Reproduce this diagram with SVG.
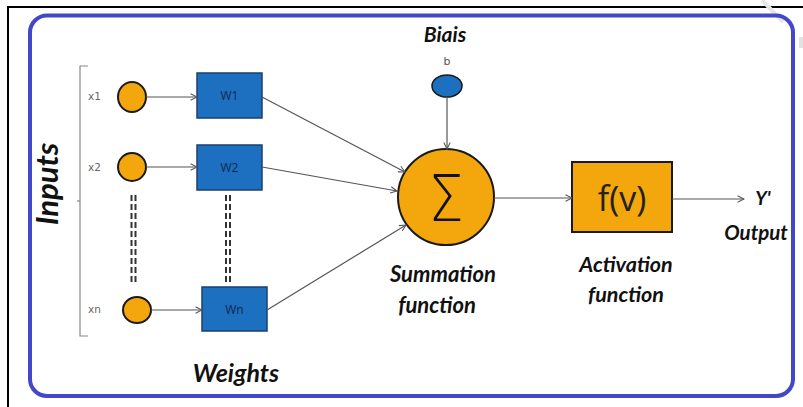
<svg xmlns="http://www.w3.org/2000/svg" width="803" height="407" viewBox="0 0 803 407">
<defs>
<style>
.lbl{font-family:Lato,"Open Sans","Liberation Sans",sans-serif;font-weight:bold;font-style:italic;fill:#111;text-anchor:middle}
.small{font-family:"DejaVu Sans","Liberation Sans",sans-serif;fill:#666;font-size:10.5px}
.inp{fill:#f3a70c;stroke:#1a1a1a;stroke-width:2}
.wbox{fill:#1d6fc0;stroke:#1c3f6e;stroke-width:1.5}
.wtxt{font-family:"Open Sans","Liberation Sans",sans-serif;font-size:12px;fill:#0e2a4e;text-anchor:middle}
.conn{stroke:#555;stroke-width:1.2;fill:none;marker-end:url(#arr)}
.dash{stroke:#333;stroke-width:2;stroke-dasharray:6 3;fill:none}
</style>
<marker id="arr" viewBox="0 0 10 10" refX="9" refY="5" markerWidth="8" markerHeight="8" markerUnits="userSpaceOnUse" orient="auto">
<path d="M1,1 L9,5 L1,9" fill="none" stroke="#555" stroke-width="1.3"/>
</marker>
</defs>
<rect width="803" height="407" fill="#fff"/>
<!-- page frame -->
<path d="M8,407 V7 H803" fill="none" stroke="#000" stroke-width="2"/>
<line x1="762" y1="0" x2="783" y2="22" stroke="#e6e6e6" stroke-width="4"/>
<rect x="799" y="37" width="4" height="11" fill="#e2e2e2"/>
<!-- blue border -->
<rect x="30" y="15.5" width="763" height="380.5" rx="17" fill="none" stroke="#4347c9" stroke-width="4"/>

<!-- Inputs bracket -->
<g id="inputs">
<path d="M88,66 H80 V336 H88" fill="none" stroke="#888" stroke-width="1.2"/>
<line x1="80" y1="201" x2="77" y2="201" stroke="#888" stroke-width="1.2"/>
<text class="lbl" font-size="31" transform="translate(58,184) rotate(-90)">Inputs</text>
</g>

<g id="x1"><text class="small" x="88" y="100">x1</text><ellipse class="inp" cx="132" cy="97" rx="14" ry="15"/></g>
<g id="x2"><text class="small" x="88" y="171">x2</text><ellipse class="inp" cx="132" cy="167" rx="14" ry="14"/></g>
<g id="xn"><text class="small" x="88" y="313">xn</text><ellipse class="inp" cx="137" cy="310" rx="14" ry="13"/></g>

<g id="w1"><rect class="wbox" x="197" y="73" width="65" height="45"/><text class="wtxt" x="229.5" y="100">W1</text></g>
<g id="w2"><rect class="wbox" x="197" y="145" width="65" height="45"/><text class="wtxt" x="229.5" y="172">W2</text></g>
<g id="wn"><rect class="wbox" x="202" y="287" width="65" height="44"/><text class="wtxt" x="234.5" y="314">Wn</text></g>

<g id="bias">
<text class="lbl" font-size="21" x="445" y="42">Biais</text>
<text x="447" y="65" font-family="'DejaVu Sans','Liberation Sans',sans-serif" font-size="11" fill="#555" text-anchor="middle">b</text>
<ellipse cx="447" cy="86" rx="15" ry="11" fill="#1d6fc0" stroke="#1a1a1a" stroke-width="1.5"/>
</g>

<g id="sum">
<circle cx="446" cy="197" r="48" fill="#f3a70c" stroke="#1a1a1a" stroke-width="2"/>
<text x="446" y="221" font-family="'DejaVu Sans','Liberation Sans',sans-serif" font-weight="200" font-size="64" fill="#111" text-anchor="middle" transform="translate(446,0) scale(0.88,1) translate(-446,0)">Σ</text>
<text class="lbl" font-size="22" x="443" y="282">Summation</text>
<text class="lbl" font-size="22" x="437" y="313">function</text>
</g>

<g id="activation">
<rect x="572" y="162" width="100" height="70" fill="#f3a70c" stroke="#1a1a1a" stroke-width="2"/>
<text x="622" y="211" font-family="'Open Sans','Liberation Sans',sans-serif" font-size="34" fill="#222" text-anchor="middle">f(v)</text>
<text class="lbl" font-size="21.5" x="626" y="272">Activation</text>
<text class="lbl" font-size="21.5" x="626" y="302">function</text>
</g>

<g id="output">
<text class="lbl" font-size="19" x="763" y="205">Y'</text>
<text class="lbl" font-size="20.5" x="756" y="240">Output</text>
</g>

<g id="weights-label"><text class="lbl" font-size="25" x="236" y="382">Weights</text></g>

<g id="connectors">
<line class="conn" x1="146" y1="97" x2="197" y2="97"/>
<line class="conn" x1="146" y1="167" x2="197" y2="167"/>
<line class="conn" x1="151" y1="310" x2="202" y2="310"/>
<line class="conn" x1="262" y1="97" x2="405" y2="172"/>
<line class="conn" x1="262" y1="167" x2="397" y2="191"/>
<line class="conn" x1="267" y1="310" x2="406" y2="225"/>
<line class="conn" x1="447" y1="97" x2="447" y2="149"/>
<line class="conn" x1="494" y1="198" x2="572" y2="198"/>
<line class="conn" x1="672" y1="199" x2="744" y2="199"/>
<line class="dash" x1="131.5" y1="195" x2="131.5" y2="283"/>
<line class="dash" x1="135.5" y1="195" x2="135.5" y2="283"/>
<line class="dash" x1="226" y1="195" x2="226" y2="283"/>
<line class="dash" x1="230" y1="195" x2="230" y2="283"/>
</g>
</svg>
